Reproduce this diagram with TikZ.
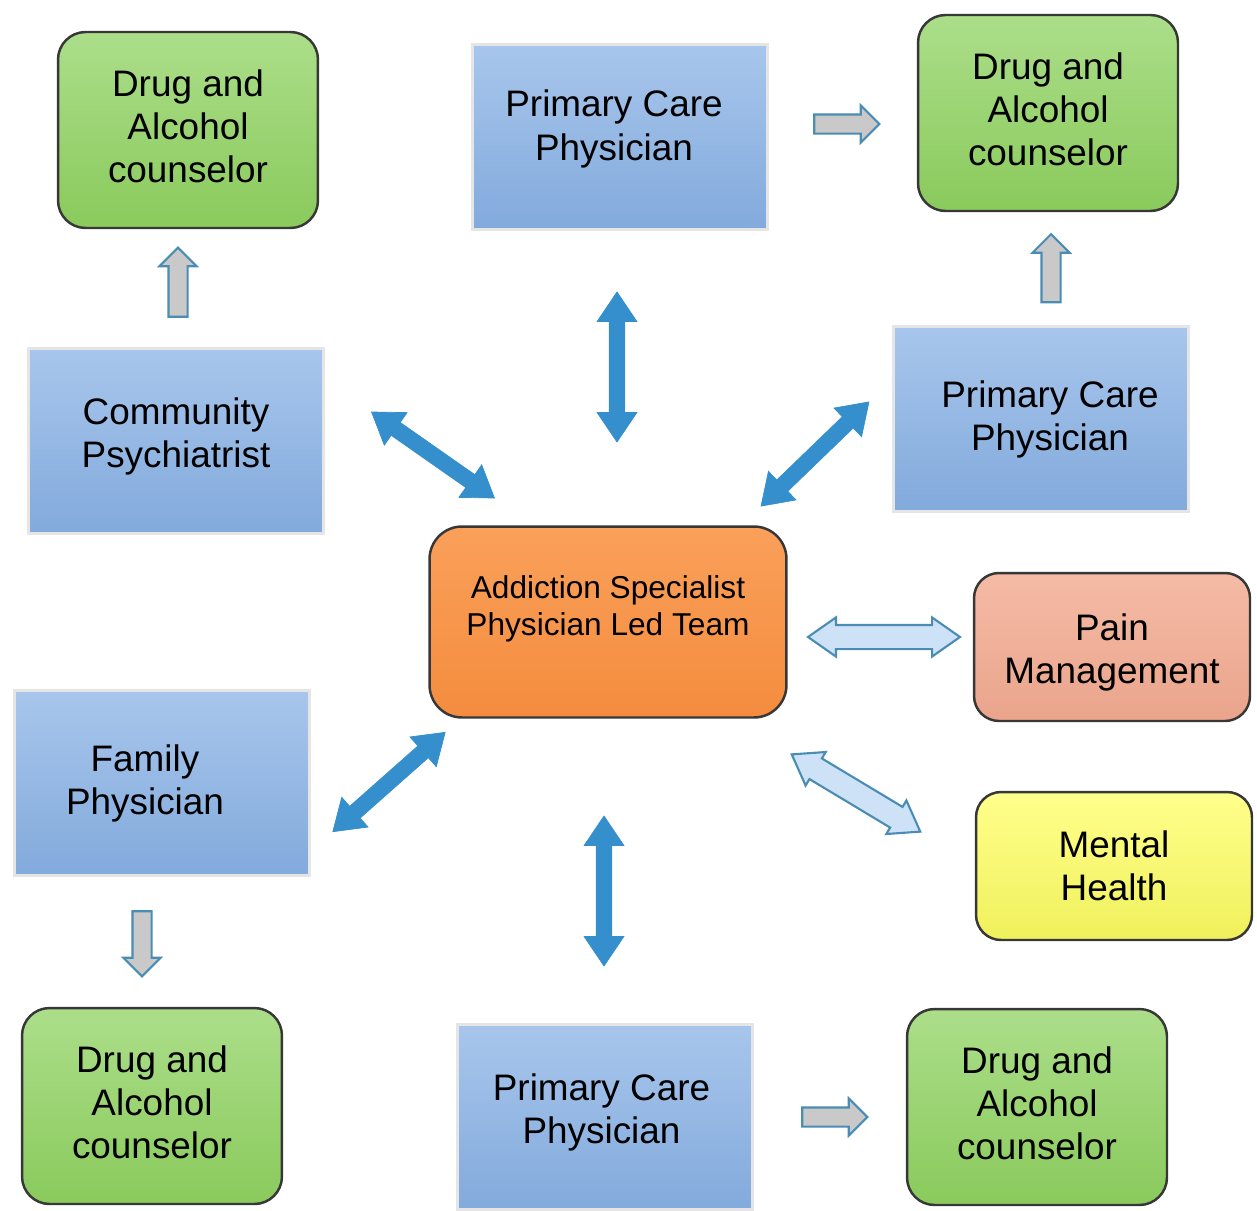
\documentclass[tikz,border=0pt]{standalone}
\usepackage{fontspec}
\setmainfont{Liberation Sans}
\usetikzlibrary{shapes.arrows}

\definecolor{careT}{RGB}{168,198,236}
\definecolor{careB}{RGB}{130,170,220}
\definecolor{greenT}{RGB}{172,222,138}
\definecolor{greenB}{RGB}{138,202,92}
\definecolor{hubT}{RGB}{250,160,90}
\definecolor{hubB}{RGB}{244,140,62}
\definecolor{painT}{RGB}{245,187,165}
\definecolor{painB}{RGB}{234,164,140}
\definecolor{mindT}{RGB}{255,255,140}
\definecolor{mindB}{RGB}{240,240,92}
\definecolor{edge}{RGB}{55,55,55}
\definecolor{linkblue}{RGB}{52,143,204}
\definecolor{linklight}{RGB}{205,226,246}
\definecolor{linkedge}{RGB}{74,140,180}
\definecolor{stepgray}{RGB}{201,201,201}

\begin{document}
\begin{tikzpicture}[x=0.02cm, y=-0.02cm,
  box/.style={rectangle, align=center, inner sep=0pt,
              font=\fontsize{21}{24.5}\selectfont},
  care/.style={box, top color=careT, bottom color=careB, draw=black!10,
               line width=1.5pt, minimum width=5.9cm, minimum height=3.7cm},
  counsel/.style={box, rounded corners=0.55cm, top color=greenT, bottom color=greenB,
                  draw=edge, line width=1.4pt, minimum width=5.2cm, minimum height=3.92cm},
  side/.style={box, rounded corners=0.5cm, draw=edge, line width=1.4pt,
               minimum width=5.52cm, minimum height=2.96cm},
  hub/.style={box, rounded corners=0.65cm, top color=hubT, bottom color=hubB,
              draw=edge, line width=1.4pt, minimum width=7.14cm, minimum height=3.82cm,
              font=\fontsize{18}{21}\selectfont},
  link/.style={double arrow, inner xsep=0pt, inner ysep=0.15cm, fill=linkblue, draw=linkblue,
               minimum height=3cm, minimum width=0.78cm,
               double arrow head extend=0.24cm, double arrow tip angle=68},
  softlink/.style={double arrow, inner xsep=0pt, inner ysep=0.22cm, fill=linklight,
                   draw=linkedge, line width=1.2pt, minimum height=3cm, minimum width=0.76cm,
                   double arrow head extend=0.15cm, double arrow tip angle=70},
  refer/.style={single arrow, inner xsep=0pt, inner ysep=0.17cm, fill=stepgray,
                draw=linkedge, line width=1.2pt, minimum height=1.3cm, minimum width=0.72cm,
                single arrow head extend=0.18cm},
]
\useasboundingbox (0,0) rectangle (1257,1210);

% the team in the middle
\node[hub] (team) at (608,622) {Addiction Specialist\\Physician Led Team\\[-2pt]\mbox{}};

% physicians
\node[care] (pcpTop) at (620,137)
  {Primary Care\kern0.24cm\\Physician\kern0.24cm\\[-11pt]\mbox{}};
\node[care] (pcpRight) at (1041,419)
  {\hspace*{0.36cm}Primary Care\\\hspace*{0.36cm}Physician};
\node[care] (pcpBottom) at (605,1117)
  {Primary Care\kern0.14cm\\Physician\kern0.14cm\\[-14.5pt]\mbox{}};
\node[care] (psych) at (176,441) {Community\\Psychiatrist\\[-14.5pt]\mbox{}};
\node[care] (family) at (162,783)
  {Family\kern0.68cm\\Physician\kern0.68cm};

% counsellors
\node[counsel] (dacTL) at (188,130) {Drug and\\Alcohol\\counselor\\[-20pt]\mbox{}};
\node[counsel] (dacTR) at (1048,113) {Drug and\\Alcohol\\counselor\\[-20pt]\mbox{}};
\node[counsel] (dacBL) at (152,1106) {Drug and\\Alcohol\\counselor\\[-20pt]\mbox{}};
\node[counsel] (dacBR) at (1037,1107) {Drug and\\Alcohol\\counselor\\[-20pt]\mbox{}};

% other services
\node[side, top color=painT, bottom color=painB] (pain) at (1112,647)
  {\mbox{}\\[-2.7pt]Pain\\Management};
\node[side, top color=mindT, bottom color=mindB] (mental) at (1114,866) {Mental\\Health};

% two-way links with the team
\node[link, rotate=90] (aTop) at (617,367) {};
\node[link, rotate=90] (aBottom) at (604,891) {};
\node[link, rotate=-35] (aPsych) at (433,455) {};
\node[link, rotate=44] (aRight) at (815,454) {};
\node[link, rotate=41.5] (aFamily) at (389,782) {};
\node[softlink, minimum height=3.04cm] (aPain) at (884,637) {};
\node[softlink, rotate=-31] (aMental) at (856,793) {};

% referrals on to counsellors
\node[refer] (rTop) at (842,124) {};
\node[refer] (rBottom) at (830,1117) {};
\node[refer, rotate=90, minimum height=1.38cm] (rPsych) at (178,287) {};
\node[refer, rotate=90, minimum height=1.36cm] (rRight) at (1051,273) {};
\node[refer, rotate=-90] (rFamily) at (142,939) {};

\end{tikzpicture}
\end{document}
